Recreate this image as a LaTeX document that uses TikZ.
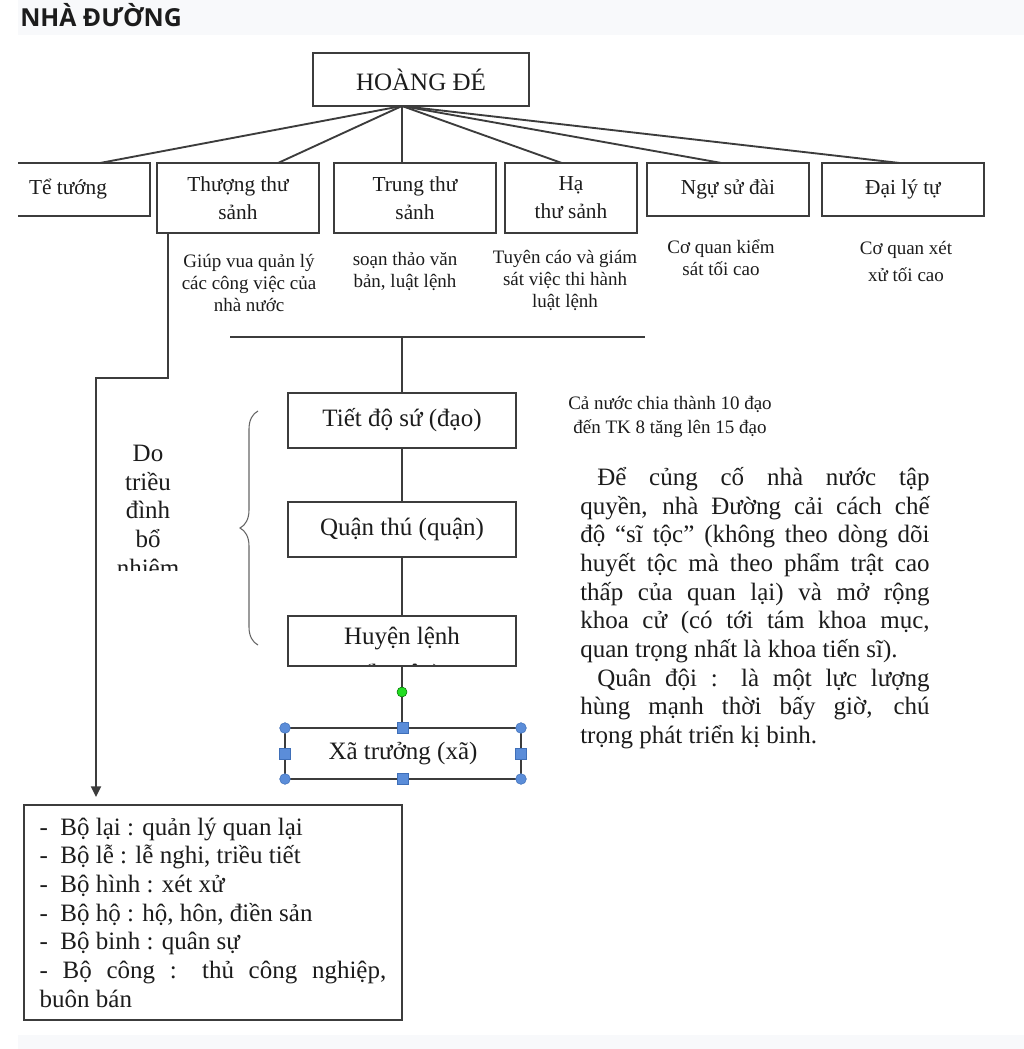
\documentclass[tikz,border=0pt]{standalone}
\usepackage{fontspec}
\setmainfont{Liberation Serif}
\newfontfamily\titlefont{Open Sans}
\usetikzlibrary{calc,arrows.meta,decorations.pathreplacing}
\definecolor{linec}{HTML}{3C3C3C}
\definecolor{inkc}{HTML}{1C1C1C}
\definecolor{bandc}{HTML}{F8F9FB}
\definecolor{gripc}{HTML}{5B8DD9}
\definecolor{gripd}{HTML}{3F6FB8}
\definecolor{rotc}{HTML}{22DD22}
\tikzset{
  box/.style 2 args={draw=linec, line width=1.4pt, inner sep=0pt, outer sep=0pt, minimum width=#1*0.75pt, minimum height=#2*0.75pt, align=center, text=inkc},
  bigtext/.style={font=\fontsize{18.75}{21.5}\selectfont},
  midtext/.style={font=\fontsize{16}{21}\selectfont},
  note/.style={font=\fontsize{14.25}{16.5}\selectfont, align=center, text=inkc, inner sep=0pt},
  link/.style={draw=linec, line width=1.4pt},
  curly/.style={draw=black!60, line width=0.8pt, decorate, decoration={brace, amplitude=13.5pt}},
  grip/.style={fill=gripc, draw=gripd, line width=0.4pt, inner sep=0pt, minimum size=8pt},
}
\begin{document}
\begin{tikzpicture}[x=0.75pt,y=-0.75pt]
% nen
\fill[white] (0,0) rectangle (1024,1049);
\fill[bandc] (18,0) rectangle (1024,1049);
\fill[white] (18,35) rectangle (1024,1035);
\useasboundingbox (0,0) rectangle (1024,1049);
\node[anchor=base west, font=\titlefont\bfseries\fontsize{18.6}{22}\selectfont, text=inkc, inner sep=0pt] (tieude) at (20,27) {NHÀ ĐƯỜNG};

% hoang de va hang thu hai
\node[box={216}{53}, bigtext] (hoang) at (421,79.5) {HOÀNG ĐÉ};
\begin{scope}
\clip (18,0) rectangle (1024,1049);
\node[box={164}{53}, midtext] (tetuong) at (68,189.5) {Tể tướng};
\end{scope}
\node[box={162}{70}, midtext] (thuong) at (238,198) {Thượng thư\\sảnh};
\node[box={162}{70}, midtext] (trung) at (415,198) {Trung thư\\sảnh};
\node[box={132}{70}, midtext] (ha) at (571,198) {Hạ\\thư sảnh};
\node[box={162}{53}, midtext] (ngu) at (728,189.5) {Ngự sử đài};
\node[box={162}{53}, midtext] (dai) at (903,189.5) {Đại lý tự};
\foreach \n/\f in {tetuong/0.695, thuong/0.747, trung/0.42, ha/0.43, ngu/0.46, dai/0.48}
  \draw[link] ($(hoang.south west)!0.412!(hoang.south east)$) -- ($(\n.north west)!\f!(\n.north east)$);

% chuc nang
\node[note] (thuongmt) at (249,282.5) {Giúp vua quản lý\\các công việc của\\nhà nước};
\node[note] (trungmt) at (405,271) {soạn thảo văn\\bản, luật lệnh};
\node[note] (hamt) at (565,280.5) {Tuyên cáo và giám\\sát việc thi hành\\luật lệnh};
\node[note] (ngumt) at (721,257.5) {Cơ quan kiểm\\sát tối cao};
\node[note, font=\fontsize{14.25}{20}\selectfont] (daimt) at (906,261.5) {Cơ quan xét\\xử tối cao};

% dia phuong
\coordinate (ngangtrai) at (230,337);
\coordinate (ngangphai) at (645,337);
\draw[link] (ngangtrai) -- (ngangphai);
\node[box={228}{55}, bigtext] (tiet) at (402,420.5) {Tiết độ sứ (đạo)};
\node[box={228}{55}, bigtext] (quan) at (402,529.5) {Quận thú (quận)};
\node[box={228}{50}] (huyen) at (402,641) {};
\node[box={236}{51}, bigtext] (xa) at (403,753.5) {Xã trưởng (xã)};
\begin{scope}
\clip (huyen.north west) rectangle ([yshift=0.8pt]huyen.south east);
\node[bigtext, anchor=north, align=center, inner sep=0pt, text=inkc] (huyenchu) at (402,626.5) {Huyện lệnh\\[6.5pt](huyện)};
\end{scope}
\draw[link] (tiet.north |- ngangtrai) -- (tiet.north);
\draw[link] (tiet.south) -- (quan.north);
\draw[link] (quan.south) -- (huyen.north);
\draw[link] (huyen.south) -- (huyen.south |- xa.north);
\node[circle, fill=rotc, draw=green!45!black, line width=0.4pt, inner sep=0pt, minimum size=7.5pt] (xoay) at (402,692) {};
\foreach \a in {north west, north east, south west, south east}
  \node[grip, circle] at (xa.\a) {};
\foreach \a in {north, south, west, east}
  \node[grip, rectangle] at (xa.\a) {};

% ngoac va bo nhiem
\draw[curly] (258,645) -- (258,411);
\begin{scope}
\clip (18,35) rectangle (235,570);
\node[bigtext, align=center, anchor=north, inner sep=0pt, text=inkc] (botrieu) at (148,445) {Do\\triều\\đình\\bổ\\nhiệm};
\end{scope}

% luc bo
\node[box={378}{215}, bigtext, align=justify, text width=260pt, anchor=north west] (bo) at (24,805) {-~ Bộ lại : quản lý quan lại\\-~ Bộ lễ : lễ nghi, triều tiết\\-~ Bộ hình : xét xử\\-~ Bộ hộ : hộ, hôn, điền sản\\-~ Bộ binh : quân sự\\- Bộ công : thủ công nghiệp,\linebreak buôn bán};
\coordinate (gap) at (96,378);
\draw[link, -{Triangle[width=7.5pt,length=8pt]}, shorten >=6pt] ($(thuong.south west)!0.068!(thuong.south east)$) |- (gap) -- (gap |- bo.north);

% ghi chu ben phai
\node[note, font=\fontsize{14.25}{18}\selectfont] (canuoc) at (670,417) {Cả nước chia thành 10 đạo\\đến TK 8 tăng lên 15 đạo};
\node[bigtext, text=inkc, inner sep=0pt, text width=262pt, align=justify, anchor=north west] (doanvan) at (580,467) {\hspace*{12.75pt}Để củng cố nhà nước tập\linebreak quyền, nhà Đường cải cách chế\linebreak độ “sĩ tộc” (không theo dòng dõi\linebreak huyết tộc mà theo phẩm trật cao\linebreak thấp của quan lại) và mở rộng\linebreak khoa cử (có tới tám khoa mục,\linebreak quan trọng nhất là khoa tiến sĩ).\\\hspace*{12.75pt}Quân đội : là một lực lượng\linebreak hùng mạnh thời bấy giờ, chú\linebreak trọng phát triển kị binh.};
\end{tikzpicture}
\end{document}
